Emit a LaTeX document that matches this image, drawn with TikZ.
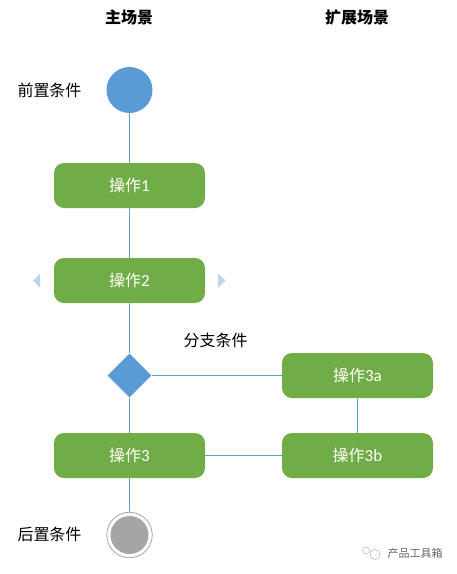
\documentclass[tikz,border=0pt]{standalone}
\usepackage{fontspec}
\setmainfont{Noto Sans CJK SC}
\newfontfamily\latinf{Carlito}
\usetikzlibrary{shapes.geometric}
\definecolor{opgreen}{HTML}{70AD47}
\definecolor{nodeblue}{HTML}{5B9BD5}
\definecolor{linecol}{HTML}{5BA3C6}
\definecolor{handle}{HTML}{BDD7E7}
\definecolor{endgray}{HTML}{A5A5A5}
\newcommand{\dgt}[1]{{\latinf\fontsize{17}{17}\selectfont #1}}
\tikzset{
  opbox/.style={draw=none,fill=opgreen,rounded corners=10pt,minimum width=151pt,minimum height=45pt,inner sep=0pt,text=white,font=\fontsize{16}{16}\selectfont},
  conn/.style={draw=linecol,line width=1pt},
  lab/.style={inner sep=0pt,text=black,font=\fontsize{16}{16}\selectfont},
  head/.style={inner sep=0pt,text=black,font=\fontsize{16}{16}\selectfont\bfseries},
  tri/.style={fill=handle,draw=none}
}
\begin{document}
\begin{tikzpicture}[x=1pt,y=-1pt]
\useasboundingbox (0,0) rectangle (457,574);
\node[head] (h1) at (129,17) {主场景};
\node[head] (h2) at (357,17) {扩展场景};
\node[lab] (l1) at (49.5,90) {前置条件};
\node[lab] (l2) at (215.5,340) {分支条件};
\node[lab] (l3) at (49.5,534) {后置条件};
\node[circle,fill=nodeblue,minimum size=46pt,inner sep=0pt] (s) at (129.5,90) {};
\node[opbox] (a1) at (129.5,185.5) {操作\dgt{1}};
\node[opbox] (a2) at (129.5,280.5) {操作\dgt{2}};
\node[diamond,aspect=1,fill=nodeblue,minimum width=44pt,minimum height=44pt,inner sep=0pt] (d) at (129.5,375.5) {};
\node[opbox] (a3) at (129.5,455.5) {操作\dgt{3}};
\node[opbox] (b1) at (357.5,375.5) {操作\dgt{3a}};
\node[opbox] (b2) at (357.5,455.5) {操作\dgt{3b}};
\node[circle,draw=endgray,fill=white,line width=0.8pt,minimum size=45.5pt,inner sep=0pt] (e) at (129.5,535) {};
\node[circle,fill=endgray,minimum size=38pt,inner sep=0pt] (ei) at (129.5,535) {};
\draw[conn] (s) -- (a1);
\draw[conn] (a1) -- (a2);
\draw[conn] (a2) -- (d);
\draw[conn] (d) -- (a3);
\draw[conn] (a3) -- (e);
\draw[conn] (d) -- (b1);
\draw[conn] (b1) -- (b2);
\draw[conn] (a3) -- (b2);
\fill[tri] (40,273.5) -- (33,280.5) -- (40,288) -- cycle;
\fill[tri] (218,273.5) -- (225.5,280.5) -- (218,288) -- cycle;
\node[inner sep=0pt,text=black!60,font=\fontsize{11}{11}\selectfont] (w) at (415,553) {产品工具箱};
\draw[black!30,line width=0.5pt] (366,550.5) circle (3.5pt);
\draw[black!30,line width=0.5pt] (375,554.5) circle (5pt);
\end{tikzpicture}
\end{document}
